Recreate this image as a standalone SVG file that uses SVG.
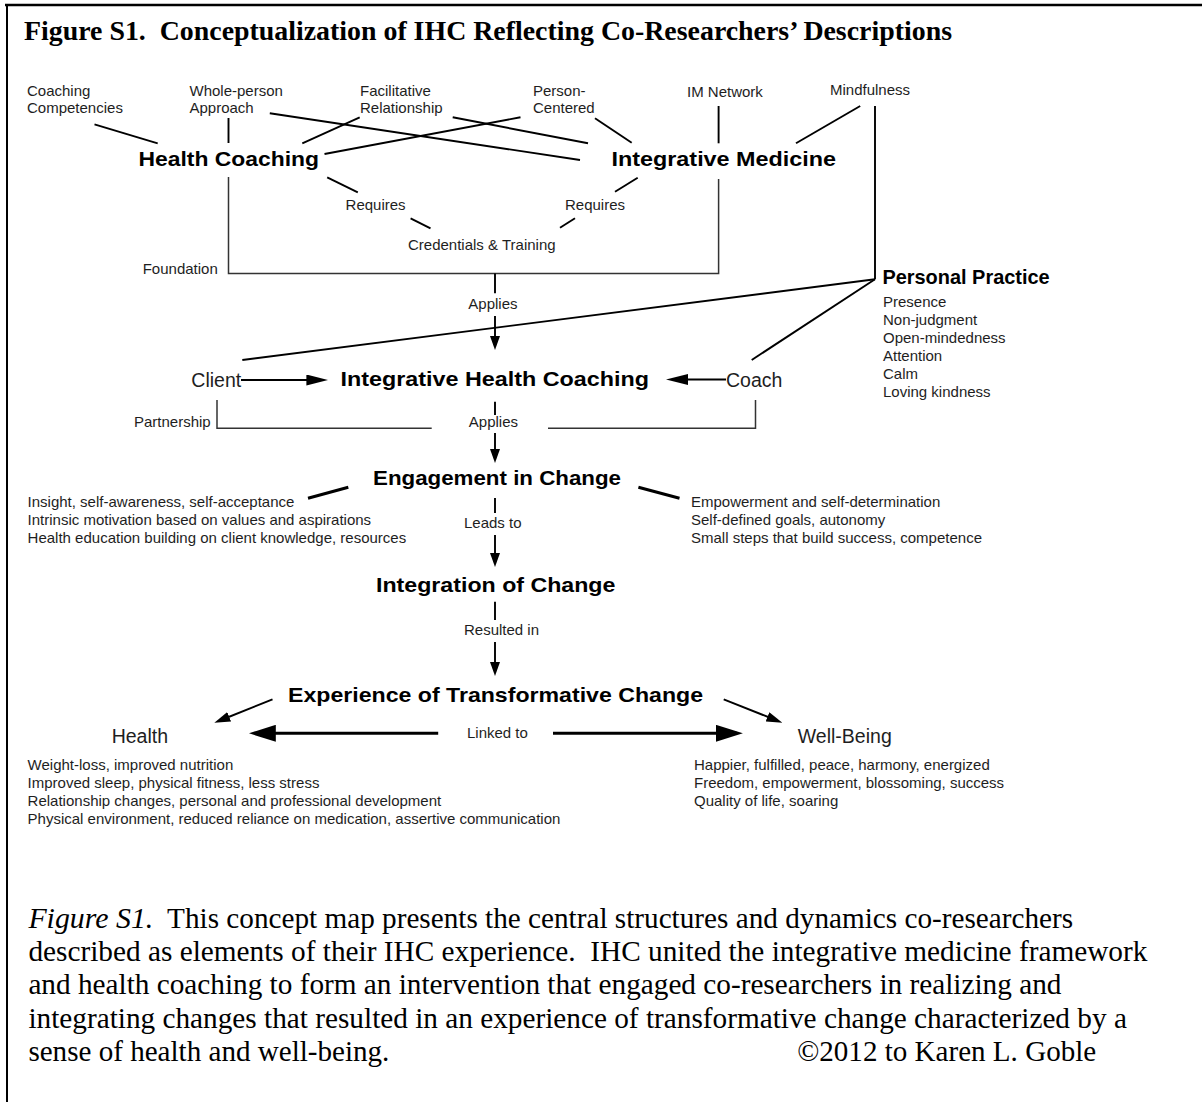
<svg xmlns="http://www.w3.org/2000/svg" width="1202" height="1102" viewBox="0 0 1202 1102">
<style>
.t{font-family:"Liberation Sans",Arial,sans-serif;font-size:15px;fill:#1e1e1e}
.m{font-family:"Liberation Sans",Arial,sans-serif;font-size:19.5px;fill:#1e1e1e}
.b{font-family:"Liberation Sans",Arial,sans-serif;font-size:21px;font-weight:bold;fill:#000}
.cap{font-family:"Liberation Serif","Times New Roman",serif;font-size:29px;fill:#000}
.ttl{font-family:"Liberation Serif","Times New Roman",serif;font-size:27px;font-weight:bold;fill:#000}
.ln{stroke:#000;stroke-width:1.9;fill:none}
.br{stroke:#333;stroke-width:1.5;fill:none}
.th{stroke:#000;stroke-width:3;fill:none}
</style>
<defs>
<marker id="ah" viewBox="0 0 14 10" refX="8" refY="5" markerWidth="14" markerHeight="10" markerUnits="userSpaceOnUse" orient="auto"><path d="M0,0 L14,5 L0,10 z" fill="#000"/></marker>
<marker id="ah2" viewBox="0 0 22 11" refX="16" refY="5.5" markerWidth="22" markerHeight="11" markerUnits="userSpaceOnUse" orient="auto"><path d="M0,0 L22,5.5 L0,11 z" fill="#000"/></marker>
<marker id="ah3" viewBox="0 0 27 17" refX="21" refY="8.5" markerWidth="27" markerHeight="17" markerUnits="userSpaceOnUse" orient="auto"><path d="M0,0 L27,8.5 L0,17 z" fill="#000"/></marker>
<marker id="ah4" viewBox="0 0 16 10" refX="10" refY="5" markerWidth="16" markerHeight="10" markerUnits="userSpaceOnUse" orient="auto"><path d="M0,0 L16,5 L0,10 z" fill="#000"/></marker>
</defs>
<rect width="1202" height="1102" fill="#fff"/>
<g id="frame">
<line x1="5" y1="5" x2="1202" y2="5" stroke="#000" stroke-width="2.5"/>
<line x1="7" y1="4" x2="7" y2="1102" stroke="#000" stroke-width="2"/>
</g>
<g id="title"><text class="ttl" x="24" y="40" textLength="928" lengthAdjust="spacingAndGlyphs">Figure S1.&#160; Conceptualization of IHC Reflecting Co-Researchers’ Descriptions</text></g>

<g id="connectors">
<line class="ln" x1="94.5" y1="124.3" x2="157.7" y2="143.3"/>
<line class="ln" x1="228.5" y1="118" x2="228.5" y2="143"/>
<line class="ln" x1="269.8" y1="113.3" x2="580" y2="160"/>
<line class="ln" x1="359.7" y1="117.3" x2="302.3" y2="143.3"/>
<line class="ln" x1="520.5" y1="117.3" x2="324.5" y2="154"/>
<line class="ln" x1="452.7" y1="117.3" x2="588" y2="143.3"/>
<line class="ln" x1="595" y1="118.3" x2="631.7" y2="142.7"/>
<line class="ln" x1="718.6" y1="106" x2="718.6" y2="143.3"/>
<line class="ln" x1="860.2" y1="106" x2="796" y2="143.3"/>
<line class="ln" x1="327.2" y1="177.3" x2="357.8" y2="192.3"/>
<line class="ln" x1="410.6" y1="218.3" x2="430.5" y2="228.3"/>
<line class="ln" x1="637.7" y1="177.7" x2="615" y2="191.7"/>
<line class="ln" x1="575" y1="218.3" x2="560" y2="227.7"/>
<polyline class="br" points="228.5,177 228.5,273.5 718.6,273.5 718.6,179"/>
<line class="ln" x1="495" y1="273.5" x2="495" y2="293.3"/>
<line class="ln" x1="495" y1="316" x2="495" y2="344" marker-end="url(#ah)"/>
<line class="ln" x1="875" y1="106" x2="875" y2="279.3"/>
<line class="ln" x1="875" y1="279.3" x2="242.3" y2="360"/>
<line class="ln" x1="875" y1="279.3" x2="751.7" y2="360"/>
<line class="ln" stroke-width="2.2" x1="241" y1="380" x2="322.4" y2="380" marker-end="url(#ah2)"/>
<line class="ln" stroke-width="2.2" x1="726" y1="379.5" x2="672" y2="379.5" marker-end="url(#ah2)"/>
<polyline class="br" points="217,400 217,428.3 431.7,428.3"/>
<polyline class="br" points="755.5,400 755.5,428.3 548,428.3"/>
<line class="ln" x1="495" y1="401.7" x2="495" y2="415"/>
<line class="ln" x1="495" y1="433" x2="495" y2="457" marker-end="url(#ah)"/>
<line class="th" x1="308" y1="498.3" x2="348.3" y2="487.3"/>
<line class="th" x1="638.4" y1="487.3" x2="679.5" y2="498.3"/>
<line class="ln" x1="495" y1="498" x2="495" y2="513"/>
<line class="ln" x1="495" y1="535" x2="495" y2="561" marker-end="url(#ah)"/>
<line class="ln" x1="495" y1="601.7" x2="495" y2="620"/>
<line class="ln" x1="495" y1="642" x2="495" y2="670" marker-end="url(#ah)"/>
<line class="ln" x1="272.5" y1="699.3" x2="219.9" y2="720.5" marker-end="url(#ah4)"/>
<line class="ln" x1="723.7" y1="699.3" x2="776.8" y2="720.5" marker-end="url(#ah4)"/>
<line class="th" x1="438.2" y1="733.3" x2="254.8" y2="733.3" marker-end="url(#ah3)"/>
<line class="th" x1="553" y1="733.3" x2="736.9" y2="733.3" marker-end="url(#ah3)"/>
</g>

<g id="coaching-competencies"><text class="t" x="27" y="96">Coaching</text><text class="t" x="27" y="113">Competencies</text></g>
<g id="whole-person"><text class="t" x="189.5" y="96">Whole-person</text><text class="t" x="189.5" y="113">Approach</text></g>
<g id="facilitative"><text class="t" x="360" y="96">Facilitative</text><text class="t" x="360" y="113">Relationship</text></g>
<g id="person-centered"><text class="t" x="533" y="96">Person-</text><text class="t" x="533" y="113">Centered</text></g>
<g id="im-network"><text class="t" x="687" y="97">IM Network</text></g>
<g id="mindfulness"><text class="t" x="830" y="95">Mindfulness</text></g>
<g id="health-coaching"><text class="b" x="138.5" y="165.5" textLength="180.5" lengthAdjust="spacingAndGlyphs">Health Coaching</text></g>
<g id="integrative-medicine"><text class="b" x="611.5" y="165.5" textLength="224.5" lengthAdjust="spacingAndGlyphs">Integrative Medicine</text></g>
<g id="requires-left"><text class="t" x="345.6" y="210">Requires</text></g>
<g id="requires-right"><text class="t" x="565" y="210">Requires</text></g>
<g id="credentials"><text class="t" x="408" y="250">Credentials &amp; Training</text></g>
<g id="foundation"><text class="t" x="142.7" y="274">Foundation</text></g>
<g id="applies-1"><text class="t" x="468.3" y="309">Applies</text></g>
<g id="personal-practice">
<text class="b" x="882.4" y="283.5" textLength="167.3" lengthAdjust="spacingAndGlyphs">Personal Practice</text>
<text class="t" x="883" y="307">Presence</text>
<text class="t" x="883" y="325">Non-judgment</text>
<text class="t" x="883" y="343">Open-mindedness</text>
<text class="t" x="883" y="361">Attention</text>
<text class="t" x="883" y="379">Calm</text>
<text class="t" x="883" y="397">Loving kindness</text>
</g>
<g id="client"><text class="m" x="191.3" y="386.7">Client</text></g>
<g id="ihc"><text class="b" x="340.6" y="386" textLength="308.4" lengthAdjust="spacingAndGlyphs">Integrative Health Coaching</text></g>
<g id="coach"><text class="m" x="726" y="386.7">Coach</text></g>
<g id="partnership"><text class="t" x="134" y="427">Partnership</text></g>
<g id="applies-2"><text class="t" x="468.8" y="427">Applies</text></g>
<g id="engagement"><text class="b" x="373" y="485" textLength="248" lengthAdjust="spacingAndGlyphs">Engagement in Change</text></g>
<g id="engagement-left">
<text class="t" x="27.6" y="506.7">Insight, self-awareness, self-acceptance</text>
<text class="t" x="27.6" y="525">Intrinsic motivation based on values and aspirations</text>
<text class="t" x="27.6" y="543.3">Health education building on client knowledge, resources</text>
</g>
<g id="engagement-right">
<text class="t" x="691" y="506.7">Empowerment and self-determination</text>
<text class="t" x="691" y="525">Self-defined goals, autonomy</text>
<text class="t" x="691" y="543.3">Small steps that build success, competence</text>
</g>
<g id="leads-to"><text class="t" x="464" y="528.3">Leads to</text></g>
<g id="integration"><text class="b" x="376" y="591.7" textLength="239.4" lengthAdjust="spacingAndGlyphs">Integration of Change</text></g>
<g id="resulted-in"><text class="t" x="464" y="635">Resulted in</text></g>
<g id="experience"><text class="b" x="288" y="701.7" textLength="415" lengthAdjust="spacingAndGlyphs">Experience of Transformative Change</text></g>
<g id="health">
<text class="m" x="111.7" y="743.3">Health</text>
<text class="t" x="27.6" y="770">Weight-loss, improved nutrition</text>
<text class="t" x="27.6" y="788">Improved sleep, physical fitness, less stress</text>
<text class="t" x="27.6" y="806">Relationship changes, personal and professional development</text>
<text class="t" x="27.6" y="823.5">Physical environment, reduced reliance on medication, assertive communication</text>
</g>
<g id="linked-to"><text class="t" x="467" y="738.3">Linked to</text></g>
<g id="well-being">
<text class="m" x="797.8" y="743.3">Well-Being</text>
<text class="t" x="694" y="770">Happier, fulfilled, peace, harmony, energized</text>
<text class="t" x="694" y="788">Freedom, empowerment, blossoming, success</text>
<text class="t" x="694" y="806">Quality of life, soaring</text>
</g>

<g id="caption">
<text class="cap" x="28.4" y="927.7" font-style="italic" textLength="124.9" lengthAdjust="spacingAndGlyphs">Figure S1.</text>
<text class="cap" x="167.1" y="927.7" textLength="906" lengthAdjust="spacingAndGlyphs">This concept map presents the central structures and dynamics co-researchers</text>
<text class="cap" x="28.4" y="961" textLength="1119" lengthAdjust="spacingAndGlyphs">described as elements of their IHC experience.&#160; IHC united the integrative medicine framework</text>
<text class="cap" x="28.4" y="994.3" textLength="1033" lengthAdjust="spacingAndGlyphs">and health coaching to form an intervention that engaged co-researchers in realizing and</text>
<text class="cap" x="28.4" y="1027.7" textLength="1098.5" lengthAdjust="spacingAndGlyphs">integrating changes that resulted in an experience of transformative change characterized by a</text>
<text class="cap" x="28.4" y="1061" textLength="361" lengthAdjust="spacingAndGlyphs">sense of health and well-being.</text>
<text class="cap" x="797.2" y="1061" textLength="299" lengthAdjust="spacingAndGlyphs">©2012 to Karen L. Goble</text>
</g>
</svg>
